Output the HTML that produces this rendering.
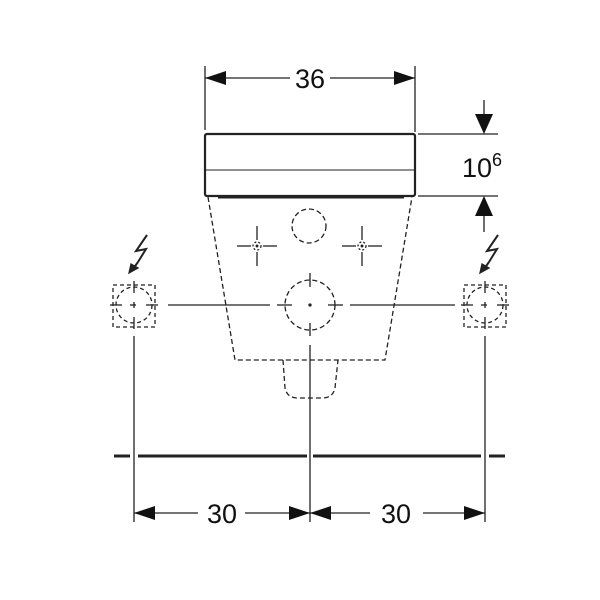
<!DOCTYPE html>
<html><head><style>html,body{margin:0;padding:0;background:#fff}svg{display:block}</style></head>
<body>
<svg width="600" height="600" viewBox="0 0 600 600" xmlns="http://www.w3.org/2000/svg" font-family="Liberation Sans, sans-serif">
<defs>
<g id="cross"><line x1="-20" y1="0" x2="-6" y2="0"/><line x1="6" y1="0" x2="20" y2="0"/><line x1="0" y1="-20" x2="0" y2="-6"/><line x1="0" y1="6" x2="0" y2="20"/><circle r="4" stroke-dasharray="2 2"/><circle r="0.8" fill="#222"/></g>
<g id="socket"><rect x="-21" y="-20" width="42" height="42" stroke-dasharray="4 3" fill="none"/><circle r="18" stroke-dasharray="4 3" fill="none"/><line x1="-24" y1="0" x2="-12" y2="0"/><line x1="-4" y1="0" x2="2" y2="0"/><line x1="12" y1="0" x2="24" y2="0"/><line x1="0" y1="-24" x2="0" y2="-12"/><line x1="0" y1="12" x2="0" y2="24"/><line x1="0" y1="-3" x2="0" y2="3"/></g>
<g id="bolt"><polyline points="5,-15 -6,1 4,-1 -4,12" fill="none" stroke-width="2"/><line x1="-4" y1="12" x2="-9" y2="19" stroke-width="2"/><polygon points="-13,23 -11,14 -4,18" fill="#222"/></g>
</defs>
<g stroke="#222" stroke-width="1.3" fill="none">
<rect x="205" y="134" width="210" height="62" rx="2" stroke-width="2.2"/>
<line x1="206" y1="170" x2="414" y2="170" stroke-width="1"/>
<line x1="218" y1="197" x2="404" y2="197" stroke-width="3"/>
<polyline points="208,197 235,360 385,360 412,197" stroke-dasharray="5 3"/>
<path d="M283,360 L285,388 Q287,398 298,398 L322,398 Q333,398 335,388 L338,360" stroke-dasharray="5 3"/>
<circle cx="309" cy="226" r="17" stroke-dasharray="5 3"/>
<use href="#cross" x="257" y="246"/>
<use href="#cross" x="362" y="246"/>
<circle cx="310" cy="305" r="25" stroke-dasharray="5 3"/>
<line x1="310" y1="273" x2="310" y2="287"/><line x1="310" y1="323" x2="310" y2="336"/>
<line x1="277" y1="305" x2="292" y2="305"/><line x1="328" y1="305" x2="343" y2="305"/>
<circle cx="310" cy="305" r="1" fill="#222"/>
<line x1="168" y1="305" x2="270" y2="305"/><line x1="350" y1="305" x2="455" y2="305"/>
<use href="#socket" x="134" y="305"/>
<use href="#socket" x="485" y="305"/>
<use href="#bolt" x="142" y="250"/>
<use href="#bolt" x="493" y="250"/>
<line x1="134" y1="336" x2="134" y2="522"/>
<line x1="485" y1="336" x2="485" y2="522"/>
<line x1="310" y1="345" x2="310" y2="522"/>
<g stroke-width="3"><line x1="114" y1="456" x2="130" y2="456"/><line x1="138" y1="456" x2="307" y2="456"/><line x1="313" y1="456" x2="481" y2="456"/><line x1="489" y1="456" x2="505" y2="456"/></g>
<line x1="134" y1="513" x2="198" y2="513"/><line x1="245" y1="513" x2="310" y2="513"/>
<line x1="310" y1="513" x2="370" y2="513"/><line x1="423" y1="513" x2="485" y2="513"/>
<line x1="205" y1="66" x2="205" y2="130"/><line x1="415" y1="66" x2="415" y2="132"/>
<line x1="205" y1="78" x2="290" y2="78"/><line x1="330" y1="78" x2="415" y2="78"/>
<line x1="418" y1="134" x2="498" y2="134"/><line x1="418" y1="196" x2="498" y2="196"/>
<line x1="484" y1="100" x2="484" y2="116"/><line x1="484" y1="214" x2="484" y2="232"/>
</g>
<g fill="#111">
<polygon points="134,513 155,506 155,520"/><polygon points="310,513 289,506 289,520"/>
<polygon points="310,513 331,506 331,520"/><polygon points="485,513 464,506 464,520"/>
<polygon points="205,78 226,71 226,85"/><polygon points="415,78 394,71 394,85"/>
<polygon points="484,134 475,114 493,114"/><polygon points="484,196 475,216 493,216"/>
</g>
<g fill="#111" font-size="27">
<text x="310" y="88" text-anchor="middle">36</text>
<text x="222" y="523" text-anchor="middle">30</text>
<text x="396" y="523" text-anchor="middle">30</text>
<text x="462" y="177">10<tspan font-size="18" dy="-11">6</tspan></text>
</g>
</svg>
</body></html>
